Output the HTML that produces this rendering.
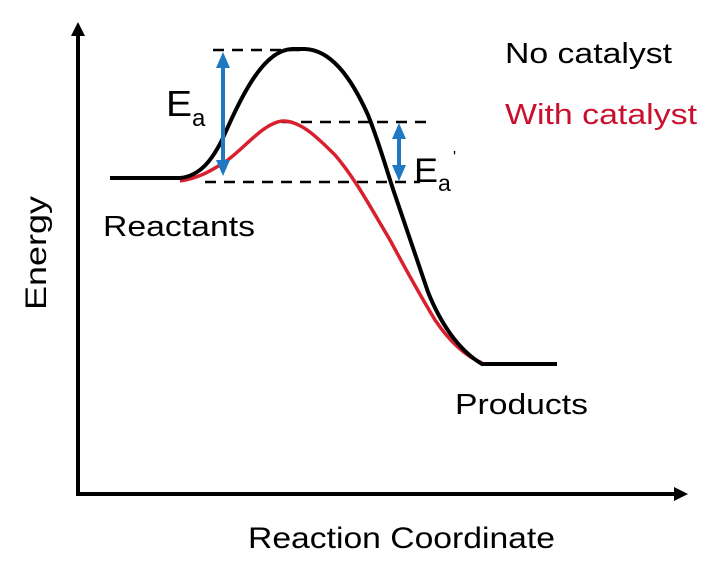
<!DOCTYPE html>
<html><head><meta charset="utf-8"><style>
html,body{margin:0;padding:0;background:#fff;}
svg{display:block;font-family:"Liberation Sans",Arial,sans-serif;}
</style></head><body>
<svg width="720" height="580" viewBox="0 0 720 580">
<defs>
<marker id="ah" markerWidth="14" markerHeight="14" refX="4" refY="7" orient="auto-start-reverse" markerUnits="userSpaceOnUse"><path d="M0,0 L14,7 L0,14 z" fill="#000"/></marker>
<marker id="bh" markerWidth="16" markerHeight="16" refX="8" refY="8" orient="auto-start-reverse" markerUnits="userSpaceOnUse"><path d="M0,1 L16,8 L0,15 z" fill="#1f78c1"/></marker>
</defs>
<line x1="78" y1="494" x2="78" y2="32" stroke="#000" stroke-width="4" marker-end="url(#ah)"/>
<line x1="76" y1="494" x2="678" y2="494" stroke="#000" stroke-width="4" marker-end="url(#ah)"/>
<g stroke="#000" stroke-width="2.5" stroke-dasharray="11,8">
<line x1="213" y1="50" x2="312" y2="50"/>
<line x1="282" y1="122" x2="428" y2="122"/>
<line x1="205" y1="182" x2="420" y2="182"/>
</g>
<path d="M180,181 C200,178 212,170 225,162 C245,148 262,124 282,121 C300,120 318,138 335,155 C355,178 372,210 390,240 C405,268 420,295 435,320 C450,342 465,356 482,363" fill="none" stroke="#d9202e" stroke-width="3.5"/>
<path d="M110,178 L180,178 C200,176 212,160 222,140 C240,100 262,50 292,49 L305,49 C330,50 350,75 368,115 C380,145 388,175 395,195 C405,225 418,262 428,292 C440,322 458,350 482,364 L557,364" fill="none" stroke="#000" stroke-width="4"/>
<line x1="223" y1="60" x2="223" y2="168" stroke="#1f78c1" stroke-width="4" marker-start="url(#bh)" marker-end="url(#bh)"/>
<line x1="399" y1="131" x2="399" y2="173" stroke="#1f78c1" stroke-width="4" marker-start="url(#bh)" marker-end="url(#bh)"/>
<text x="166" y="116" font-size="36" textLength="26" lengthAdjust="spacingAndGlyphs">E</text><text x="192" y="126" font-size="24">a</text>
<text x="414" y="182" font-size="34" textLength="24" lengthAdjust="spacingAndGlyphs">E</text><text x="438" y="191" font-size="23">a</text><text x="453" y="162" font-size="16">'</text>
<text x="505" y="63" font-size="29" textLength="167" lengthAdjust="spacingAndGlyphs">No catalyst</text>
<text x="505" y="124" font-size="29" fill="#c8102e" textLength="192" lengthAdjust="spacingAndGlyphs">With catalyst</text>
<text x="103" y="236" font-size="29" textLength="152" lengthAdjust="spacingAndGlyphs">Reactants</text>
<text x="455" y="414" font-size="29" textLength="133" lengthAdjust="spacingAndGlyphs">Products</text>
<text x="248" y="548" font-size="30" textLength="307" lengthAdjust="spacingAndGlyphs">Reaction Coordinate</text>
<text transform="translate(46,253) rotate(-90)" font-size="30" text-anchor="middle" textLength="114" lengthAdjust="spacingAndGlyphs">Energy</text>
</svg>
</body></html>
